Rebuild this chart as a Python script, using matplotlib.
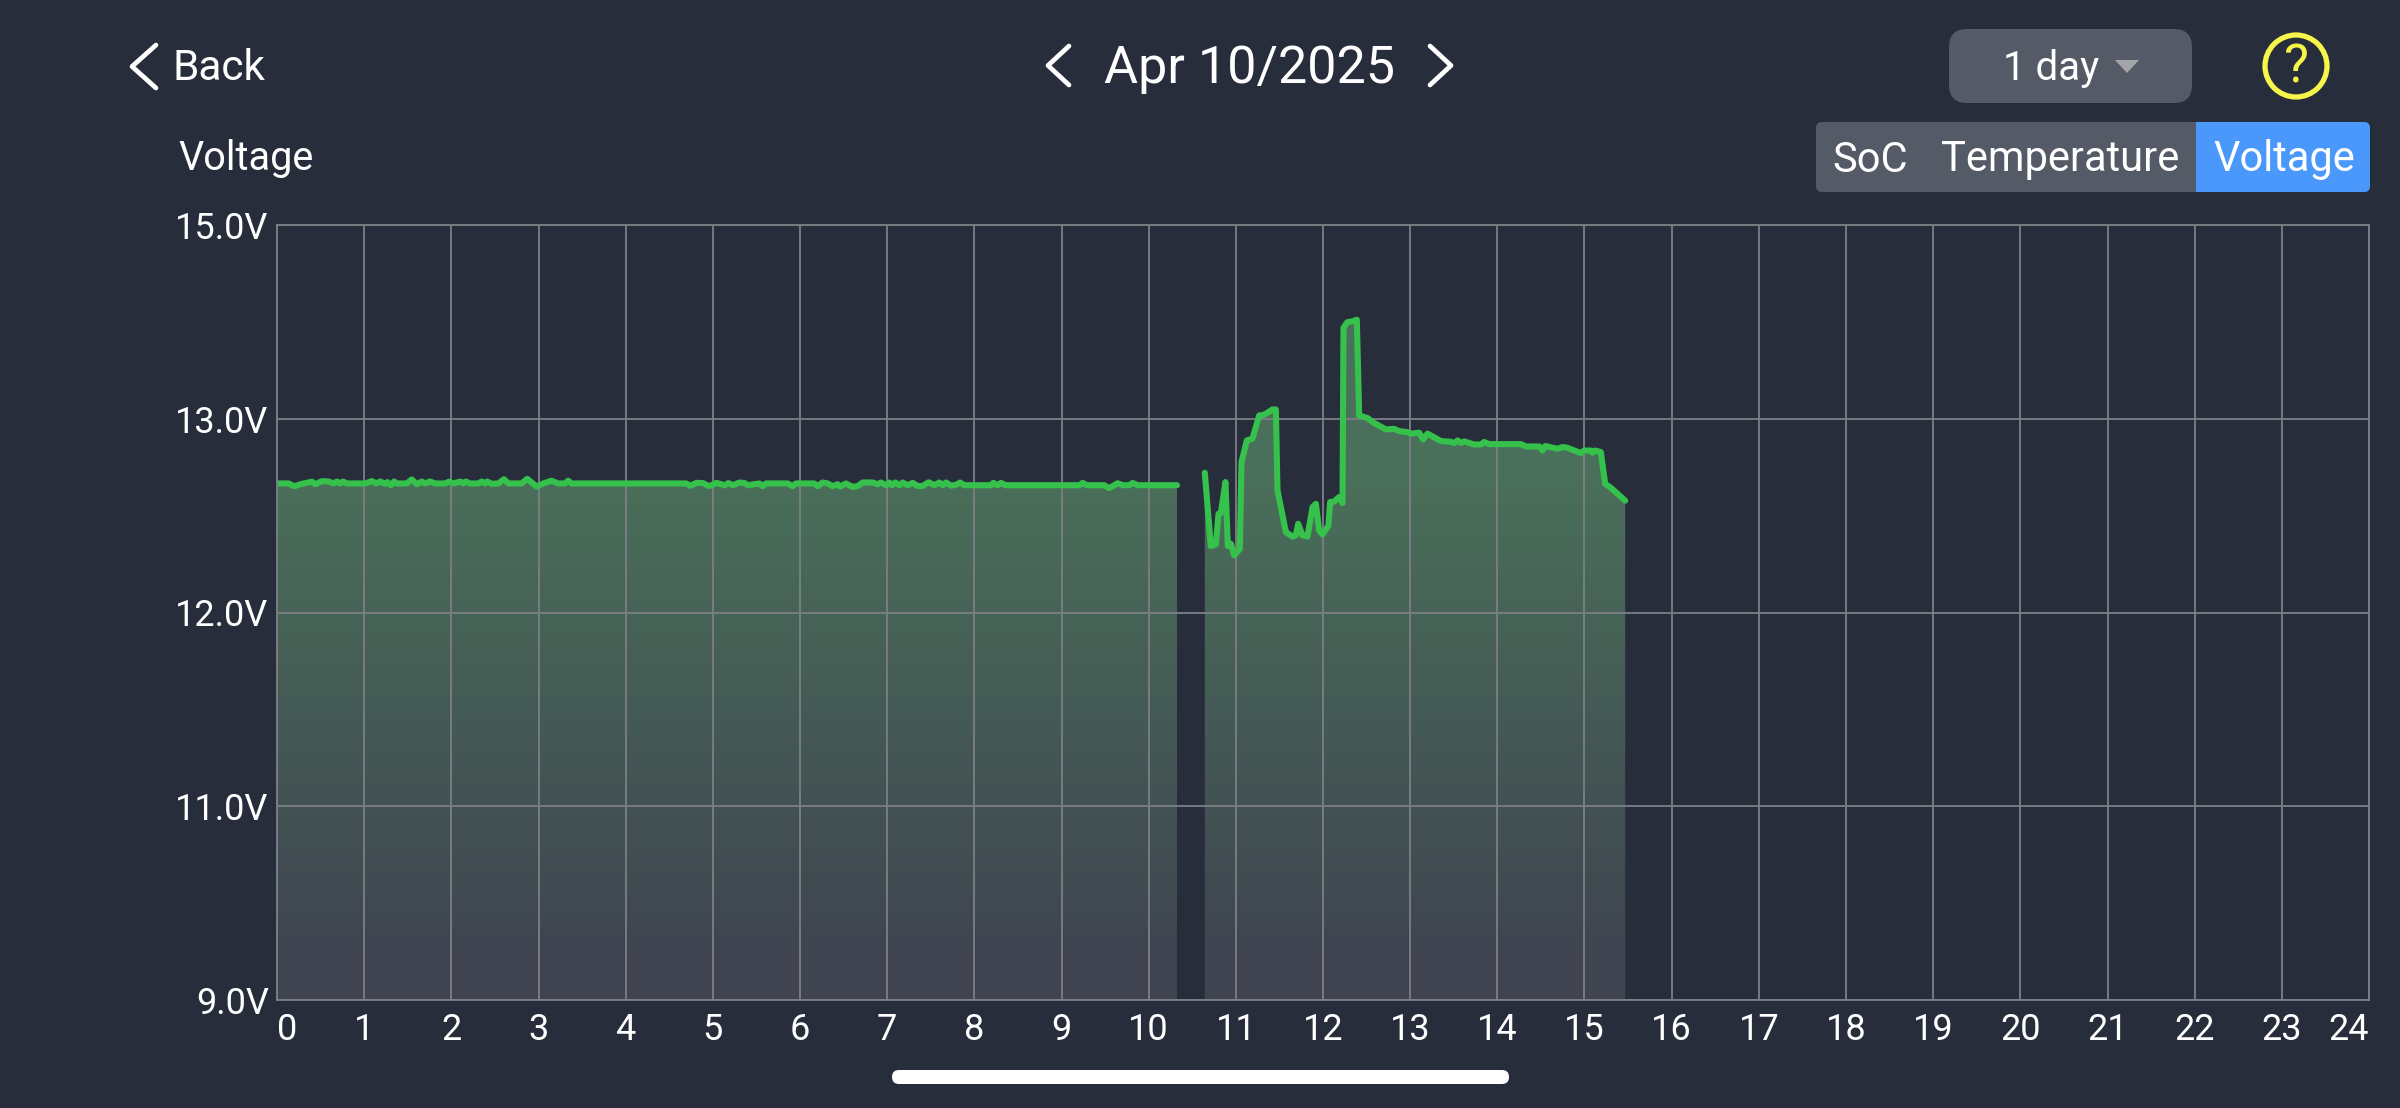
import numpy as np
import matplotlib
matplotlib.use("Agg")
import matplotlib.pyplot as plt
from matplotlib.patches import FancyBboxPatch, Circle, Polygon, Rectangle

plt.rcParams["font.family"] = ["Roboto", "DejaVu Sans"]

# morning readings, up to the logging gap
hours_a = [0.000, 0.134, 0.191, 0.229, 0.267, 0.401, 0.439, 0.515, 0.592, 0.649, 0.687, 0.725, 0.756, 0.802,
	1.012, 1.088, 1.138, 1.184, 1.241, 1.268, 1.306, 1.344, 1.375, 1.489, 1.546, 1.604, 1.661, 1.699, 1.756, 1.814,
	1.928, 1.974, 2.024, 2.100, 2.138, 2.165, 2.215, 2.310, 2.348, 2.386, 2.413, 2.463, 2.539, 2.604, 2.654, 2.806,
	2.871, 2.978, 3.055, 3.150, 3.226, 3.303, 3.341, 3.379, 4.696, 4.742, 4.811, 4.887, 4.945, 4.983, 5.040, 5.097,
	5.136, 5.178, 5.231, 5.307, 5.365, 5.403, 5.533, 5.572, 5.610, 5.859, 5.916, 5.954, 6.164, 6.203, 6.260, 6.317,
	6.375, 6.432, 6.459, 6.528, 6.604, 6.662, 6.719, 6.834, 6.891, 6.929, 6.987, 7.025, 7.055, 7.094, 7.140, 7.178,
	7.235, 7.293, 7.350, 7.407, 7.476, 7.541, 7.598, 7.637, 7.675, 7.732, 7.790, 7.836, 7.885, 8.191, 8.218, 8.268,
	8.306, 8.356, 9.205, 9.243, 9.289, 9.491, 9.541, 9.587, 9.644, 9.702, 9.778, 9.816, 9.874, 10.325]
volts_a = [12.666, 12.666, 12.652, 12.656, 12.662, 12.675, 12.662, 12.678, 12.676, 12.666, 12.676, 12.666, 12.676, 12.666,
	12.666, 12.678, 12.666, 12.676, 12.664, 12.673, 12.657, 12.676, 12.666, 12.666, 12.687, 12.662, 12.676, 12.666, 12.676, 12.666,
	12.666, 12.675, 12.666, 12.676, 12.666, 12.676, 12.666, 12.666, 12.676, 12.666, 12.676, 12.664, 12.666, 12.688, 12.666, 12.666,
	12.690, 12.650, 12.666, 12.680, 12.666, 12.666, 12.680, 12.666, 12.666, 12.654, 12.669, 12.668, 12.654, 12.656, 12.669, 12.662,
	12.656, 12.668, 12.657, 12.671, 12.668, 12.657, 12.666, 12.652, 12.666, 12.666, 12.652, 12.666, 12.666, 12.652, 12.671, 12.666,
	12.652, 12.662, 12.650, 12.666, 12.648, 12.653, 12.671, 12.671, 12.662, 12.671, 12.657, 12.671, 12.657, 12.671, 12.657, 12.671,
	12.657, 12.669, 12.653, 12.653, 12.672, 12.657, 12.671, 12.657, 12.671, 12.655, 12.659, 12.671, 12.657, 12.657, 12.669, 12.657,
	12.669, 12.657, 12.657, 12.669, 12.657, 12.657, 12.642, 12.652, 12.667, 12.657, 12.657, 12.669, 12.657, 12.657]

# readings after the gap
hours_b = [10.644, 10.713, 10.771, 10.801, 10.828, 10.881, 10.908, 10.943, 10.981, 11.046, 11.065, 11.126, 11.191, 11.268,
	11.325, 11.421, 11.459, 11.478, 11.574, 11.650, 11.688, 11.715, 11.765, 11.822, 11.880, 11.918, 11.956, 11.994, 12.063,
	12.082, 12.128, 12.185, 12.224, 12.235, 12.281, 12.338, 12.388, 12.415, 12.511, 12.587, 12.721, 12.816, 12.874, 12.969,
	13.008, 13.103, 13.149, 13.199, 13.256, 13.352, 13.467, 13.505, 13.543, 13.581, 13.620, 13.734, 13.811, 13.849, 13.906,
	14.270, 14.327, 14.480, 14.518, 14.549, 14.690, 14.748, 14.805, 14.901, 14.958, 14.996, 15.073, 15.092, 15.122, 15.187,
	15.237, 15.302, 15.467]
volts_b = [12.721, 12.343, 12.351, 12.509, 12.513, 12.673, 12.343, 12.355, 12.294, 12.329, 12.776, 12.888, 12.897, 13.034,
	13.041, 13.096, 13.096, 12.630, 12.415, 12.392, 12.398, 12.458, 12.398, 12.392, 12.544, 12.561, 12.423, 12.403, 12.449,
	12.570, 12.573, 12.596, 12.565, 13.939, 13.998, 14.005, 14.022, 13.034, 13.007, 12.978, 12.945, 12.948, 12.936, 12.931,
	12.923, 12.928, 12.893, 12.923, 12.909, 12.885, 12.881, 12.874, 12.888, 12.876, 12.883, 12.867, 12.867, 12.880, 12.869,
	12.869, 12.857, 12.857, 12.836, 12.859, 12.845, 12.854, 12.850, 12.833, 12.823, 12.836, 12.836, 12.824, 12.836, 12.828,
	12.664, 12.644, 12.577]

hour_ticks = list(range(25))
volt_ticks = [9, 11, 12, 13, 15]
volt_labels = ["9.0V", "11.0V", "12.0V", "13.0V", "15.0V"]

bg = "#272d3a"
gridCol = "#7c7f86"
lineCol = "#35c14b"
panelCol = "#545a66"
fillTop = np.array([0x4a, 0x6f, 0x5a]) / 255
fillBottom = np.array([0x3f, 0x44, 0x50]) / 255


# the volt axis has evenly spaced ticks, so it is piecewise linear
def voltForward(v):
	return np.interp(v, volt_ticks, np.arange(len(volt_ticks)))


def voltInverse(p):
	return np.interp(p, np.arange(len(volt_ticks)), volt_ticks)


fig = plt.figure(figsize = (24, 11.08), dpi = 100, facecolor = bg)
ax = fig.add_axes([277 / 2400, 1 - 1000 / 1108, 2092 / 2400, 775 / 1108], facecolor = bg)
ax.set_yscale("function", functions = (voltForward, voltInverse))

# gradient fill under each run of readings
gradient = np.linspace(0, 1, 256)[:, None, None]
gradient = np.clip((gradient - 0.05) / 0.62, 0, 1)
gradientImg = fillTop * gradient + fillBottom * (1 - gradient)
for hours, volts in [(hours_a, volts_a), (hours_b, volts_b)]:
	area = ax.fill_between(hours, volts, 9, alpha = 0)
	im = ax.imshow(gradientImg, extent = (0, 1, 0, 1), origin = "lower", aspect = "auto",
		transform = ax.transAxes, zorder = 0)
	im.set_clip_path(area.get_paths()[0], transform = ax.transData)

ax.plot(hours_a, volts_a, color = lineCol, lw = 4.4, solid_capstyle = "round", solid_joinstyle = "round")
ax.plot(hours_b, volts_b, color = lineCol, lw = 4.4, solid_capstyle = "round", solid_joinstyle = "round")

ax.set_xlim(0, 24)
ax.set_ylim(9, 15)
ax.grid(True, color = gridCol, lw = 1.3)
for spine in ax.spines.values():
	spine.set_color(gridCol)
	spine.set_linewidth(1.3)

ax.set_xticks(hour_ticks)
ax.set_xticklabels([str(h) for h in hour_ticks])
ax.set_yticks(volt_ticks)
ax.set_yticklabels(volt_labels)
ax.minorticks_off()
ax.tick_params(length = 0, labelsize = 26, labelcolor = "white")
ax.tick_params(axis = "x", pad = 9)
ax.tick_params(axis = "y", pad = 6)
ax.get_xticklabels()[0].set_ha("left")
ax.get_xticklabels()[-1].set_ha("right")

# app controls around the chart, laid out in pixels
ui = fig.add_axes([0, 0, 1, 1], facecolor = "none")
ui.set_xlim(0, 2400)
ui.set_ylim(1108, 0)
ui.axis("off")


def chevron(xTip, xEnd, yTop, yBottom):
	ui.plot([xEnd, xTip, xEnd], [yTop, (yTop + yBottom) / 2, yBottom], color = "white", lw = 3.4,
		solid_capstyle = "round", solid_joinstyle = "round")


chevron(132, 156, 45, 88)
chevron(1048, 1069, 46, 85)
chevron(1451, 1430, 46, 85)

ui.text(172, 69, "Back", color = "white", fontsize = 30.5, ha = "left", va = "center")
ui.text(1249, 69, "Apr 10/2025", color = "white", fontsize = 37.5, ha = "center", va = "center")
ui.text(178, 159, "Voltage", color = "white", fontsize = 28.5, ha = "left", va = "center")

ui.add_patch(FancyBboxPatch((1949 + 18, 29 + 18), 243 - 36, 74 - 36, boxstyle = "round,pad=18,rounding_size=18",
	fc = panelCol, ec = "none"))
ui.text(2051, 69, "1 day", color = "white", fontsize = 29, ha = "center", va = "center")
ui.add_patch(Polygon([[2115, 60], [2139, 60], [2127, 73]], closed = True, fc = "#a3a5a9", ec = "none"))

ui.add_patch(Circle((2296, 66), 31, fc = "none", ec = "#f6f64a", lw = 3.8))
ui.text(2296, 68, "?", color = "#f6f64a", fontsize = 38, ha = "center", va = "center")

# tab strip, the last tab is the selected one
ui.add_patch(FancyBboxPatch((1816 + 6, 122 + 6), 554 - 12, 70 - 12, boxstyle = "round,pad=6,rounding_size=6",
	fc = panelCol, ec = "none"))
ui.add_patch(FancyBboxPatch((2196 + 6, 122 + 6), 174 - 12, 70 - 12, boxstyle = "round,pad=6,rounding_size=6",
	fc = "#4a98fb", ec = "none"))
ui.add_patch(Rectangle((2196, 122), 12, 70, fc = "#4a98fb", ec = "none"))
ui.text(1870, 160, "SoC", color = "white", fontsize = 30, ha = "center", va = "center")
ui.text(2060, 160, "Temperature", color = "white", fontsize = 30, ha = "center", va = "center")
ui.text(2284, 160, "Voltage", color = "white", fontsize = 30, ha = "center", va = "center")

# home indicator
ui.add_patch(FancyBboxPatch((892 + 7, 1070 + 7), 617 - 14, 0, boxstyle = "round,pad=7,rounding_size=7",
	fc = "white", ec = "none"))

fig.savefig("out.png", dpi = 100, facecolor = bg)
